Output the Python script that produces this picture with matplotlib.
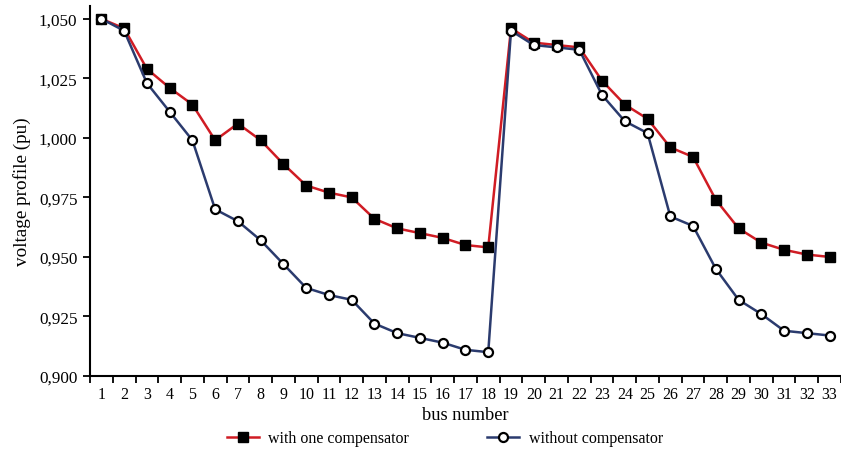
import numpy as np
import matplotlib
matplotlib.use("Agg")
from matplotlib import pyplot as plt
from matplotlib.ticker import FuncFormatter, FixedLocator

# data
buses = list(range(1, 34))

with_comp = [1.050, 1.046, 1.029, 1.021, 1.014, 0.999, 1.006, 0.999, 0.989, 0.980,
             0.977, 0.975, 0.966, 0.962, 0.960, 0.958, 0.955, 0.954, 1.046, 1.040,
             1.039, 1.038, 1.024, 1.014, 1.008, 0.996, 0.992, 0.974, 0.962, 0.956,
             0.953, 0.951, 0.950]

without_comp = [1.050, 1.045, 1.023, 1.011, 0.999, 0.970, 0.965, 0.957, 0.947, 0.937,
                0.934, 0.932, 0.922, 0.918, 0.916, 0.914, 0.911, 0.910, 1.045, 1.039,
                1.038, 1.037, 1.018, 1.007, 1.002, 0.967, 0.963, 0.945, 0.932, 0.926,
                0.919, 0.918, 0.917]

y_ticks = [0.900, 0.925, 0.950, 0.975, 1.000, 1.025, 1.050]

RED = "#d01c24"
BLUE = "#2b3b6e"

plt.rcParams["font.family"] = ["Liberation Serif", "DejaVu Serif"]

fig = plt.figure(figsize=(8.41, 4.64), dpi=100)
ax = fig.add_axes([0.107, 0.1875, 0.893, 0.798])

ax.plot(buses, with_comp, color=RED, lw=1.8, marker="s", ms=7.5,
        mfc="black", mec="black", label="with one compensator", zorder=3)
ax.plot(buses, without_comp, color=BLUE, lw=1.8, marker="o", ms=6.5,
        mfc="white", mec="black", mew=1.6, label="without compensator", zorder=4)

ax.set_xlim(0.5, 33.5)
ax.set_ylim(0.900, 1.0555)

ax.set_yticks(y_ticks)
ax.yaxis.set_major_formatter(FuncFormatter(lambda v, p: f"{v:.3f}".replace(".", ",")))
ax.set_xticks(buses)
ax.xaxis.set_minor_locator(FixedLocator(np.arange(0.5, 34, 1)))
ax.tick_params(axis="x", which="major", length=0, labelsize=11.5, pad=7)
ax.tick_params(axis="x", which="minor", length=5, width=1.3, direction="out")
ax.tick_params(axis="y", length=5, width=1.3, labelsize=12.3, pad=4)

for s in ["top", "right"]:
    ax.spines[s].set_visible(False)
for s in ["left", "bottom"]:
    ax.spines[s].set_linewidth(1.5)

ax.set_ylabel("voltage profile (pu)", fontsize=13.8, labelpad=6)
ax.set_xlabel("bus number", fontsize=13.2, labelpad=3)

fig.legend(loc="lower center", bbox_to_anchor=(0.529, 0.005), ncol=2, frameon=False,
           fontsize=11.5, columnspacing=4.9, handlelength=2.0, handletextpad=0.6)

fig.savefig("out.png", dpi=100)
